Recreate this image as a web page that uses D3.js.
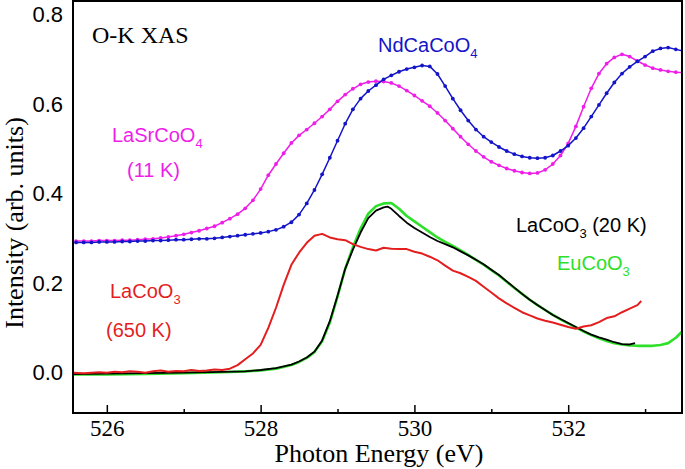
<!DOCTYPE html>
<html>
<head>
<meta charset="utf-8">
<script src="https://cdn.jsdelivr.net/npm/d3@7"></script>
<style>
  html, body { margin: 0; padding: 0; background: #fff; }
  svg { display: block; }
</style>
</head>
<body>
<svg id="chart" width="685" height="469"></svg>
<script>
// ---- Data ----
const xMajorTicks = [526, 528, 530, 532];
const xMinorTicks = [527, 529, 531, 533];
const yTicks = [0.0, 0.2, 0.4, 0.6, 0.8];

// LaSrCoO4 (11 K) - magenta, with markers
const laSrCoO4 = [
  [525.6,0.294],[525.7,0.294],[525.8,0.294],[525.9,0.295],[526.0,0.295],[526.1,0.295],[526.2,0.296],[526.3,0.296],
  [526.4,0.297],[526.5,0.298],[526.6,0.299],[526.7,0.301],[526.8,0.303],[526.9,0.306],[527.0,0.309],[527.1,0.313],
  [527.2,0.317],[527.3,0.322],[527.4,0.327],[527.5,0.335],[527.6,0.344],[527.7,0.354],[527.8,0.367],[527.9,0.385],
  [528.0,0.410],[528.1,0.441],[528.2,0.466],[528.3,0.490],[528.4,0.513],[528.5,0.530],[528.6,0.543],[528.7,0.557],
  [528.8,0.572],[528.9,0.588],[529.0,0.606],[529.1,0.621],[529.2,0.634],[529.3,0.644],[529.4,0.649],[529.5,0.651],
  [529.6,0.650],[529.7,0.647],[529.8,0.640],[529.9,0.630],[530.0,0.619],[530.1,0.607],[530.2,0.595],[530.3,0.580],
  [530.4,0.563],[530.5,0.545],[530.6,0.527],[530.7,0.510],[530.8,0.495],[530.9,0.482],[531.0,0.471],[531.1,0.463],
  [531.2,0.456],[531.3,0.451],[531.4,0.447],[531.5,0.445],[531.6,0.446],[531.7,0.453],[531.8,0.466],[531.9,0.485],
  [532.0,0.512],[532.1,0.550],[532.2,0.594],[532.3,0.635],[532.4,0.668],[532.5,0.690],[532.6,0.704],[532.7,0.711],
  [532.8,0.706],[532.9,0.696],[533.0,0.687],[533.1,0.680],[533.2,0.676],[533.3,0.673],[533.4,0.671],[533.5,0.670]
];

// NdCaCoO4 - blue, with markers
const ndCaCoO4 = [
  [525.6,0.291],[525.7,0.291],[525.8,0.291],[525.9,0.292],[526.0,0.292],[526.1,0.292],[526.2,0.293],[526.3,0.293],
  [526.4,0.294],[526.5,0.294],[526.6,0.295],[526.7,0.295],[526.8,0.296],[526.9,0.297],[527.0,0.297],[527.1,0.298],
  [527.2,0.299],[527.3,0.299],[527.4,0.300],[527.5,0.302],[527.6,0.304],[527.7,0.306],[527.8,0.308],[527.9,0.310],
  [528.0,0.312],[528.1,0.315],[528.2,0.319],[528.3,0.326],[528.4,0.336],[528.5,0.353],[528.6,0.378],[528.7,0.408],
  [528.8,0.443],[528.9,0.480],[529.0,0.518],[529.1,0.556],[529.2,0.588],[529.3,0.612],[529.4,0.629],[529.5,0.642],
  [529.6,0.655],[529.7,0.664],[529.8,0.672],[529.9,0.678],[530.0,0.682],[530.1,0.686],[530.2,0.684],[530.3,0.667],
  [530.4,0.640],[530.5,0.612],[530.6,0.586],[530.7,0.563],[530.8,0.543],[530.9,0.527],[531.0,0.515],[531.1,0.504],
  [531.2,0.495],[531.3,0.488],[531.4,0.483],[531.5,0.480],[531.6,0.479],[531.7,0.480],[531.8,0.485],[531.9,0.495],
  [532.0,0.507],[532.1,0.524],[532.2,0.546],[532.3,0.572],[532.4,0.598],[532.5,0.624],[532.6,0.648],[532.7,0.668],
  [532.8,0.683],[532.9,0.695],[533.0,0.706],[533.1,0.718],[533.2,0.724],[533.3,0.726],[533.4,0.722],[533.5,0.718]
];

// LaCoO3 (650 K) - red
const laCoO3_650 = [
  [525.56,0.000],[525.7,-0.001],[525.8,0.000],[525.9,0.001],[526.0,0.000],[526.1,0.002],[526.2,0.001],[526.3,0.003],
  [526.4,0.002],[526.5,0.000],[526.6,0.003],[526.7,0.005],[526.8,0.002],[526.9,0.004],[527.0,0.003],[527.1,0.006],
  [527.2,0.004],[527.3,0.005],[527.4,0.007],[527.5,0.006],[527.6,0.009],[527.7,0.017],[527.8,0.030],[527.9,0.043],
  [528.0,0.062],[528.1,0.100],[528.2,0.145],[528.3,0.196],[528.4,0.241],[528.5,0.268],[528.6,0.290],[528.7,0.306],
  [528.8,0.310],[528.9,0.302],[529.0,0.298],[529.1,0.296],[529.2,0.287],[529.3,0.281],[529.4,0.276],[529.5,0.273],
  [529.6,0.279],[529.7,0.277],[529.8,0.276],[529.9,0.276],[530.0,0.270],[530.1,0.266],[530.2,0.259],[530.3,0.251],
  [530.4,0.239],[530.5,0.228],[530.6,0.222],[530.7,0.214],[530.8,0.205],[530.9,0.192],[531.0,0.179],[531.1,0.166],
  [531.2,0.155],[531.3,0.145],[531.4,0.135],[531.5,0.128],[531.6,0.121],[531.7,0.116],[531.8,0.112],[531.9,0.107],
  [532.0,0.102],[532.1,0.098],[532.2,0.103],[532.3,0.106],[532.4,0.113],[532.5,0.122],[532.6,0.126],[532.7,0.135],
  [532.8,0.143],[532.9,0.151],[532.95,0.160]
];

// LaCoO3 (20 K) - black
const laCoO3_20 = [
  [525.56,-0.003],[526.0,-0.002],[526.5,-0.001],[527.0,0.000],[527.5,0.002],[527.8,0.003],[528.0,0.006],[528.2,0.010],
  [528.4,0.018],[528.5,0.025],[528.6,0.034],[528.7,0.047],[528.8,0.072],[528.9,0.115],[529.0,0.172],[529.1,0.232],
  [529.2,0.275],[529.3,0.313],[529.4,0.345],[529.5,0.362],[529.6,0.369],[529.65,0.371],[529.7,0.366],[529.8,0.350],
  [529.9,0.335],[530.0,0.323],[530.1,0.313],[530.2,0.303],[530.3,0.294],[530.4,0.287],[530.5,0.280],[530.6,0.271],
  [530.7,0.262],[530.8,0.252],[530.9,0.242],[531.0,0.230],[531.1,0.218],[531.2,0.204],[531.3,0.190],[531.4,0.176],
  [531.5,0.163],[531.6,0.151],[531.7,0.140],[531.8,0.129],[531.9,0.120],[532.0,0.111],[532.1,0.102],[532.2,0.093],
  [532.3,0.085],[532.4,0.079],[532.5,0.074],[532.6,0.068],[532.7,0.064],[532.8,0.063],[532.87,0.066]
];

// EuCoO3 - green
const euCoO3 = [
  [525.56,-0.004],[526.0,-0.004],[526.5,-0.003],[527.0,-0.001],[527.5,0.001],[527.8,0.003],[528.0,0.005],[528.2,0.009],
  [528.4,0.017],[528.5,0.024],[528.6,0.033],[528.7,0.046],[528.8,0.070],[528.9,0.112],[529.0,0.170],[529.1,0.232],
  [529.2,0.280],[529.3,0.322],[529.4,0.355],[529.5,0.372],[529.6,0.378],[529.7,0.379],[529.8,0.366],[529.9,0.350],
  [530.0,0.338],[530.1,0.326],[530.2,0.314],[530.3,0.302],[530.4,0.292],[530.5,0.283],[530.6,0.273],[530.7,0.263],
  [530.8,0.252],[530.9,0.241],[531.0,0.229],[531.1,0.217],[531.2,0.203],[531.3,0.189],[531.4,0.176],[531.5,0.163],
  [531.6,0.151],[531.7,0.140],[531.8,0.129],[531.9,0.119],[532.0,0.110],[532.1,0.101],[532.2,0.092],[532.3,0.084],
  [532.4,0.077],[532.5,0.071],[532.6,0.066],[532.7,0.063],[532.8,0.061],[532.9,0.060],[533.0,0.060],[533.1,0.060],
  [533.2,0.062],[533.3,0.066],[533.4,0.078],[533.5,0.095]
];

// ---- Layout ----
const svg = d3.select("#chart");
const L = 73, R = 682, T = 1, B = 413;
const x = d3.scaleLinear().domain([525.56, 533.48]).range([L, R]);
const y = d3.scaleLinear().domain([-0.09, 0.83]).range([B, T]);

svg.append("defs").append("clipPath").attr("id", "clip")
  .append("rect").attr("x", L).attr("y", T).attr("width", R - L).attr("height", B - T);

const serif = "'Liberation Serif', 'Times New Roman', serif";
const sans = "'Liberation Sans', Arial, sans-serif";

// Axes
const xMajor = svg.append("g").attr("transform", `translate(0,${B})`)
  .call(d3.axisBottom(x).tickValues(xMajorTicks).tickSize(-8).tickPadding(7).tickFormat(d3.format("d")));
const xMinor = svg.append("g").attr("transform", `translate(0,${B})`)
  .call(d3.axisBottom(x).tickValues(xMinorTicks).tickSize(-4).tickFormat(() => null));
xMinor.selectAll("text").remove();
[xMajor, xMinor].forEach(g => {
  g.select(".domain").remove();
  g.selectAll("line").attr("stroke", "#000").attr("stroke-width", 1.5);
});
xMajor.selectAll("text").attr("font-family", serif).attr("font-size", 23).attr("fill", "#000");

const yAx = svg.append("g").attr("transform", `translate(${L},0)`)
  .call(d3.axisLeft(y).tickValues(yTicks).tickSize(0).tickPadding(10).tickFormat(d3.format(".1f")));
yAx.select(".domain").remove();
yAx.selectAll("text").attr("font-family", sans).attr("font-size", 22).attr("fill", "#000");

// Lines
const line = d3.line().x(d => x(d[0])).y(d => y(d[1]));
const plot = svg.append("g").attr("clip-path", "url(#clip)");

function drawLine(data, color, width) {
  plot.append("path").datum(data).attr("d", line)
    .attr("fill", "none").attr("stroke", color).attr("stroke-width", width)
    .attr("stroke-linejoin", "round");
}
function drawDots(data, color) {
  plot.append("g").selectAll("circle").data(data).join("circle")
    .attr("cx", d => x(d[0])).attr("cy", d => y(d[1])).attr("r", 1.9).attr("fill", color);
}

const cMag = "#ee1ee8", cBlue = "#1414c8", cRed = "#e41e1e", cGreen = "#2ee02a", cBlack = "#000";

drawLine(laSrCoO4, cMag, 1.5);
drawDots(laSrCoO4, cMag);
drawLine(ndCaCoO4, cBlue, 1.5);
drawDots(ndCaCoO4, cBlue);
drawLine(euCoO3, cGreen, 2.6);
drawLine(laCoO3_20, cBlack, 1.8);
drawLine(laCoO3_650, cRed, 2);

// Frame
svg.append("rect").attr("x", L).attr("y", T).attr("width", R - L).attr("height", B - T)
  .attr("fill", "none").attr("stroke", "#000").attr("stroke-width", 2);

// Axis titles
svg.append("text").attr("x", 379).attr("y", 462).attr("text-anchor", "middle")
  .attr("font-family", serif).attr("font-size", 26).attr("fill", "#000").text("Photon Energy (eV)");
svg.append("text").attr("transform", "translate(23,223) rotate(-90)").attr("text-anchor", "middle")
  .attr("font-family", serif).attr("font-size", 26).attr("fill", "#000").text("Intensity (arb. units)");

// Annotations
svg.append("text").attr("x", 92).attr("y", 43).attr("font-family", serif).attr("font-size", 24)
  .attr("fill", "#000").text("O-K XAS");

function chem(xp, yp, main, sub, tail, color) {
  const t = svg.append("text").attr("x", xp).attr("y", yp).attr("font-family", sans)
    .attr("font-size", 20).attr("fill", color);
  t.append("tspan").text(main);
  if (sub) t.append("tspan").attr("font-size", 13).attr("dy", 6).text(sub);
  if (tail) t.append("tspan").attr("dy", sub ? -6 : 0).text(tail);
  return t;
}

chem(112, 142, "LaSrCoO", "4", null, cMag);
chem(127, 177, "(11 K)", null, null, cMag);
chem(378, 52, "NdCaCoO", "4", null, cBlue);
chem(110, 298, "LaCoO", "3", null, cRed);
chem(106, 337, "(650 K)", null, null, cRed);
chem(516, 232, "LaCoO", "3", " (20 K)", cBlack);
chem(557, 270, "EuCoO", "3", null, cGreen);
</script>
</body>
</html>
